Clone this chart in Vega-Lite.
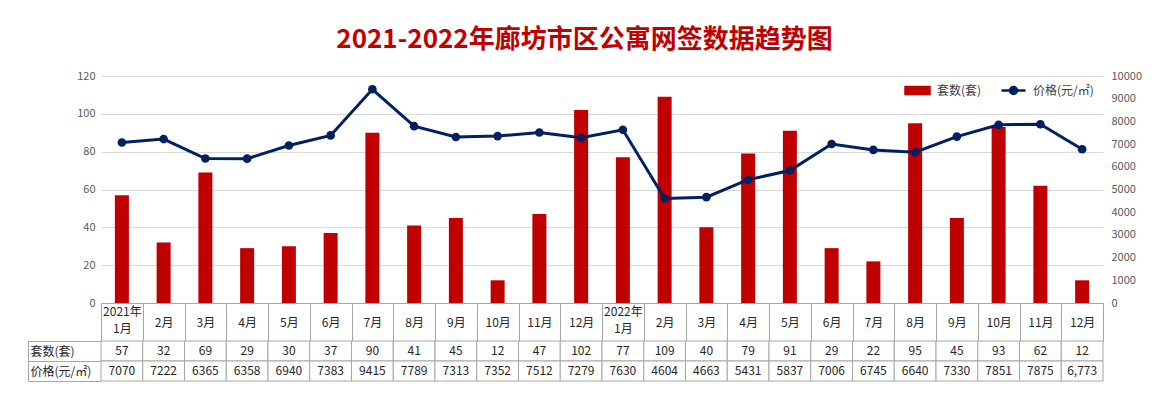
{
  "$schema": "https://vega.github.io/schema/vega-lite/v6.json",
  "padding": {"left": 27, "top": 27, "right": 0, "bottom": 0},
  "background": "white",
  "title": {"text": "2021-2022年廊坊市区公寓网签数据趋势图", "color": "#C00000", "fontSize": 26, "font": "Noto Sans CJK SC", "fontWeight": "bold", "anchor": "middle", "offset": 17},
  "config": {"font": "Noto Sans CJK SC", "view": {"stroke": null}, "axis": {"labelColor": "#595959", "labelFontSize": 11, "labelFont": "Noto Sans CJK SC"}},
  "datasets": {
    "d": [
      {"month": "2021年1月", "count": 57, "price": 7070, "priceText": "7070"},
      {"month": "2021年2月", "count": 32, "price": 7222, "priceText": "7222"},
      {"month": "2021年3月", "count": 69, "price": 6365, "priceText": "6365"},
      {"month": "2021年4月", "count": 29, "price": 6358, "priceText": "6358"},
      {"month": "2021年5月", "count": 30, "price": 6940, "priceText": "6940"},
      {"month": "2021年6月", "count": 37, "price": 7383, "priceText": "7383"},
      {"month": "2021年7月", "count": 90, "price": 9415, "priceText": "9415"},
      {"month": "2021年8月", "count": 41, "price": 7789, "priceText": "7789"},
      {"month": "2021年9月", "count": 45, "price": 7313, "priceText": "7313"},
      {"month": "2021年10月", "count": 12, "price": 7352, "priceText": "7352"},
      {"month": "2021年11月", "count": 47, "price": 7512, "priceText": "7512"},
      {"month": "2021年12月", "count": 102, "price": 7279, "priceText": "7279"},
      {"month": "2022年1月", "count": 77, "price": 7630, "priceText": "7630"},
      {"month": "2022年2月", "count": 109, "price": 4604, "priceText": "4604"},
      {"month": "2022年3月", "count": 40, "price": 4663, "priceText": "4663"},
      {"month": "2022年4月", "count": 79, "price": 5431, "priceText": "5431"},
      {"month": "2022年5月", "count": 91, "price": 5837, "priceText": "5837"},
      {"month": "2022年6月", "count": 29, "price": 7006, "priceText": "7006"},
      {"month": "2022年7月", "count": 22, "price": 6745, "priceText": "6745"},
      {"month": "2022年8月", "count": 95, "price": 6640, "priceText": "6640"},
      {"month": "2022年9月", "count": 45, "price": 7330, "priceText": "7330"},
      {"month": "2022年10月", "count": 93, "price": 7851, "priceText": "7851"},
      {"month": "2022年11月", "count": 62, "price": 7875, "priceText": "7875"},
      {"month": "2022年12月", "count": 12, "price": 6773, "priceText": "6,773"}
    ]
  },
  "bounds": "flush",
  "spacing": 38,
  "vconcat": [
    {
      "width": 1002,
      "height": 227,
      "data": {"name": "d"},
      "encoding": {
        "x": {
          "field": "month", "type": "nominal", "sort": null,
          "scale": {"paddingInner": 0, "paddingOuter": 0},
          "axis": {
            "title": null, "labelAngle": 0, "domainColor": "#a6a6a6", "tickColor": "#a6a6a6",
            "tickSize": 38, "tickBand": "extent",
            "labelPadding": {"condition": {"test": "slice(datum.label, 5) == '1月'", "value": -30}, "value": -19},
            "labelBaseline": "middle",
            "labelColor": "#262626", "labelFontSize": 12, "labelLineHeight": 17,
            "labelExpr": "slice(datum.label, 5) == '1月' ? [slice(datum.label, 0, 5), '1月'] : slice(datum.label, 5)"
          }
        }
      },
      "layer": [
        {
          "mark": {"type": "bar", "width": 14},
          "encoding": {
            "y": {"field": "count", "type": "quantitative", "scale": {"domain": [0, 120]},
              "axis": {"title": null, "grid": true, "gridColor": "#d9d9d9", "domain": false, "ticks": false, "values": [0, 20, 40, 60, 80, 100, 120], "labelPadding": 6}},
            "color": {
              "datum": "套数(套)", "type": "nominal",
              "scale": {"domain": ["套数(套)", "价格(元/㎡)"], "range": ["#C00000", "#002060"]},
              "legend": {
                "orient": "none", "legendX": 805, "legendY": 3, "direction": "horizontal", "title": null,
                "symbolSize": 400, "labelFontSize": 12, "labelColor": "#404040", "labelOffset": 8, "columnPadding": 14,
                "encode": {"symbols": {"update": {
                  "shape": {"signal": "datum.value === '套数(套)' ? 'M-1.2,-0.35H1.2V0.35H-1.2Z' : 'M-1.2,0H1.2M-0.35,0A0.35,0.35,0,1,1,0.35,0A0.35,0.35,0,1,1,-0.35,0'"},
                  "fill": {"signal": "datum.value === '套数(套)' ? '#C00000' : '#002060'"},
                  "stroke": {"signal": "datum.value === '套数(套)' ? 'transparent' : '#002060'"},
                  "strokeWidth": {"value": 2.5},
                  "opacity": {"value": 1}
                }}}
              }
            }
          }
        },
        {
          "mark": {"type": "line", "strokeWidth": 3, "point": {"filled": true, "size": 75, "opacity": 1}},
          "encoding": {
            "y": {"field": "price", "type": "quantitative", "scale": {"domain": [0, 10000]},
              "axis": {"title": null, "orient": "right", "grid": false, "domain": false, "ticks": false, "values": [0, 1000, 2000, 3000, 4000, 5000, 6000, 7000, 8000, 9000, 10000], "labelPadding": 8, "format": "d"}},
            "color": {"datum": "价格(元/㎡)", "type": "nominal"}
          }
        }
      ],
      "resolve": {"scale": {"y": "independent"}}
    },
    {
      "width": 1002,
      "height": 40,
      "data": {"name": "d"},
      "transform": [{"fold": ["count", "priceText"], "as": ["row", "val"]}],
      "encoding": {
        "x": {"field": "month", "type": "nominal", "sort": null, "axis": null, "scale": {"paddingInner": 0, "paddingOuter": 0}},
        "y": {
          "field": "row", "type": "nominal", "sort": ["count", "priceText"],
          "scale": {"paddingInner": 0, "paddingOuter": 0},
          "axis": {
            "title": null, "offset": 73, "domainColor": "#a6a6a6", "tickColor": "#a6a6a6",
            "tickBand": "extent", "tickSize": -73, "labelAlign": "left", "labelPadding": 71,
            "labelFontSize": 12, "labelColor": "#262626",
            "labelExpr": "datum.value == 'count' ? '套数(套)' : (datum.value == 'priceText' ? '价格(元/㎡)' : '')"
          }
        }
      },
      "layer": [
        {"mark": {"type": "rect", "fill": "white", "stroke": "#a6a6a6", "strokeWidth": 1}},
        {"mark": {"type": "text", "fontSize": 12, "color": "#262626"}, "encoding": {"text": {"field": "val"}}}
      ]
    }
  ]
}
